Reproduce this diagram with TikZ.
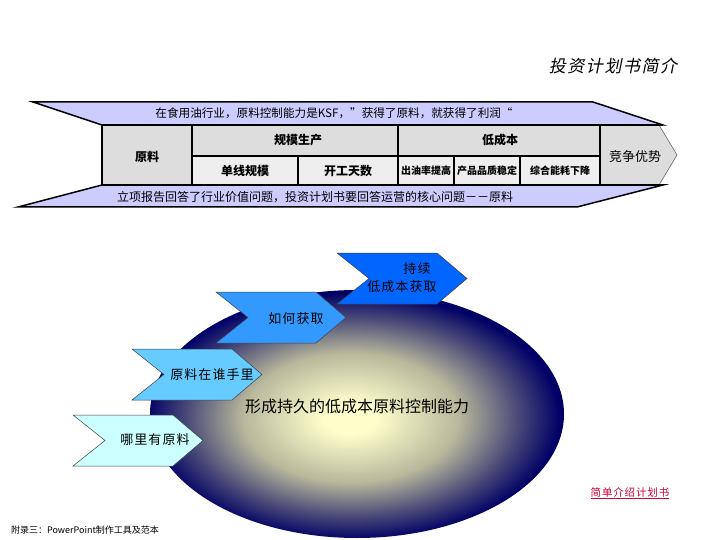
\documentclass[tikz,border=0pt]{standalone}
\usepackage{fontspec}
\newfontfamily\cjk{Noto Sans CJK SC}
\newfontfamily\cjksp[LetterSpace=8]{Noto Sans CJK SC}
\newfontfamily\cjkit[FakeSlant=0.2,LetterSpace=9]{Noto Sans CJK SC}
\definecolor{lav}{HTML}{CCCCFF}
\definecolor{cellA}{HTML}{DDDDDD}
\definecolor{cellB}{HTML}{EEEEEE}
\definecolor{ellin}{HTML}{FFFFCC}
\definecolor{ellmid}{HTML}{B8B89C}
\definecolor{elldark}{HTML}{4A4A78}
\definecolor{ellout}{HTML}{000066}
\definecolor{chA}{HTML}{CCFFFF}
\definecolor{chB}{HTML}{66CCFF}
\definecolor{chC}{HTML}{3399FF}
\definecolor{chD}{HTML}{0066FF}
\definecolor{linkred}{HTML}{CC0033}
\pgfdeclareradialshading{ellshade}{\pgfpoint{-1bp}{-1bp}}{color(0bp)=(ellin); color(3bp)=(ellin); color(13bp)=(ellmid); color(20bp)=(elldark); color(25bp)=(ellout); color(50bp)=(ellout)}
\newcommand\mychev[3]{\draw[chevline,fill=#3] (#1,#2) -- ++(100,0) -- ++(30,25.5) -- ++(-30,25.5) -- ++(-100,0) -- ++(32,-25.5) -- cycle;}
\begin{document}
\begin{tikzpicture}[x=1pt,y=-1pt,
  band/.style={draw=black,line width=1.5pt,fill=lav,line join=miter},
  cellline/.style={draw=black,line width=1.4pt},
  chevline/.style={draw=black!75,line width=0.5pt},
  bt/.style={font=\cjk\bfseries\fontsize{12}{12}\selectfont,inner sep=0pt},
  bs/.style={font=\cjk\bfseries\fontsize{10}{10}\selectfont,inner sep=0pt},
  txt/.style={inner sep=0pt}]
\useasboundingbox (0,0) rectangle (720,540);
% top and bottom bands
\draw[band] (33,102) -- (593,102) -- (663,125) -- (102,125) -- cycle;
\draw[band] (102,185) -- (663,185) -- (577,207) -- (18,207) -- cycle;
% grey arrow
\draw[fill=cellA,draw=black!60,line width=0.6pt] (600,125) -- (659,125) -- (677,155) -- (659,185) -- (600,185) -- cycle;
% cells
\fill[cellA] (102,125) rectangle (600,156);
\fill[cellA] (102,156) rectangle (192,185);
\fill[cellB] (192,156) rectangle (600,185);
\draw[cellline] (102,125) -- (102,185);
\draw[cellline] (192,125) -- (192,185);
\draw[cellline] (398,125) -- (398,185);
\draw[cellline] (600,125) -- (600,185);
\draw[cellline] (192,156) -- (600,156);
\draw[cellline] (298,156) -- (298,185);
\draw[cellline] (454,156) -- (454,185);
\draw[cellline] (520,156) -- (520,185);
\draw[line width=1.5pt] (102,125) -- (663,125);
\draw[line width=1.5pt] (102,185) -- (663,185);
% band texts
\node[txt,font=\cjk\fontsize{11.6}{11.6}\selectfont] (topt) at (334,113) {在食用油行业，原料控制能力是KSF，”获得了原料，就获得了利润“};
\node[txt,font=\cjk\fontsize{12}{12}\selectfont] (bott) at (315,197) {立项报告回答了行业价值问题，投资计划书要回答运营的核心问题－－原料};
\node[bt] (yl) at (147,157) {原料};
\node[bt] (gm) at (298,140) {规模生产};
\node[bt] (dcb) at (500,140) {低成本};
\node[bt] (dx) at (245,171) {单线规模};
\node[bt] (kg) at (348,171) {开工天数};
\node[bs] (cy) at (426,171) {出油率提高};
\node[bs] (pz) at (487,171) {产品品质稳定};
\node[bs] (zh) at (560,171) {综合能耗下降};
\node[txt,font=\cjk\fontsize{13}{13}\selectfont] (jz) at (635,157) {竞争优势};
% title
\node[txt,font=\cjkit\fontsize{17}{17}\selectfont] (title) at (613,66) {投资计划书简介};
% ellipse
\path[shading=ellshade] (357,414) ellipse [x radius=207, y radius=124];
\node[txt,font=\cjk\fontsize{16}{16}\selectfont] (core) at (357,406) {形成持久的低成本原料控制能力};
% chevrons
\mychev{73}{415}{chA}
\mychev{132}{349}{chB}
\mychev{216}{292}{chC}
\mychev{337}{253}{chD}
\node[txt,font=\cjksp\fontsize{13}{13}\selectfont] (c1) at (155,440) {哪里有原料};
\node[txt,font=\cjksp\fontsize{13}{13}\selectfont] (c2) at (212,375) {原料在谁手里};
\node[txt,font=\cjksp\fontsize{13}{13}\selectfont] (c3) at (296,319) {如何获取};
\node[txt,font=\cjksp\fontsize{13}{13}\selectfont] (c4a) at (417,269) {持续};
\node[txt,font=\cjksp\fontsize{13}{13}\selectfont] (c4b) at (402,287) {低成本获取};
% footer and link
\node[txt,font=\cjk\fontsize{9}{9}\selectfont] (foot) at (85,530) {附录三：PowerPoint制作工具及范本};
\node[txt,font=\cjksp\fontsize{10.5}{10.5}\selectfont,text=linkred] (link) at (630,492) {简单介绍计划书};
\draw[linkred,line width=0.8pt] ([yshift=-1.5pt]link.south west) -- ([yshift=-1.5pt]link.south east);
\end{tikzpicture}
\end{document}
